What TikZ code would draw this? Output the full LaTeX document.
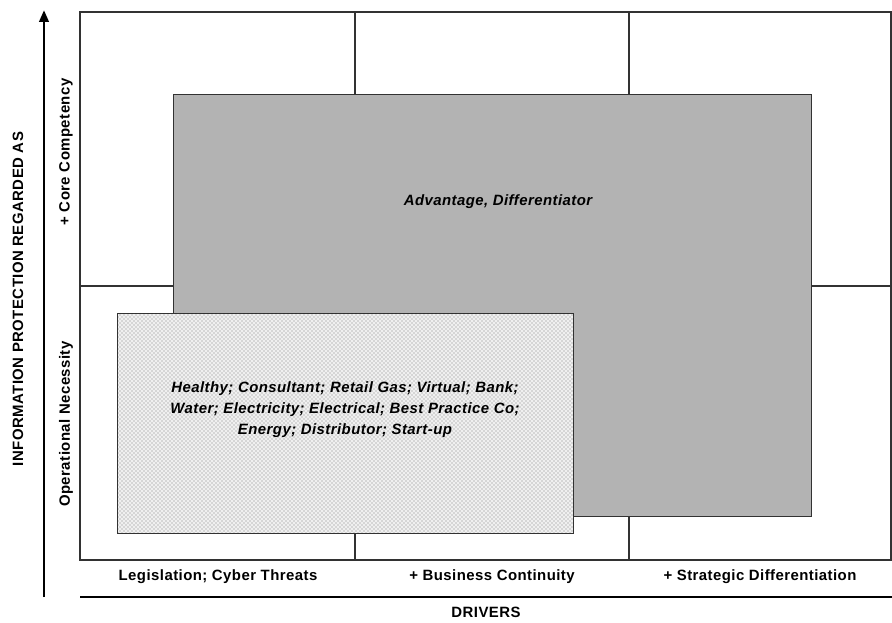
\documentclass[tikz,border=0pt]{standalone}
\usepackage{fontspec}
\setmainfont{Liberation Sans}
\usetikzlibrary{patterns,arrows.meta}
\definecolor{boxgray}{RGB}{179,179,179}
\definecolor{linegray}{RGB}{50,50,50}
\newfontfamily\wideface[LetterSpace=3]{Liberation Sans}
\tikzset{
  gridline/.style={draw=linegray, line width=0.9pt},
  axisline/.style={draw=black, line width=2.2pt},
  lbl/.style={font=\wideface\bfseries\fontsize{11.2}{13}\selectfont, inner sep=0pt},
  boxtext/.style={font=\wideface\bfseries\itshape\fontsize{11.2}{15.7}\selectfont, align=center, inner sep=0pt},
}
\begin{document}
\begin{tikzpicture}[x=0.75pt,y=-0.75pt]
\useasboundingbox (0,0) rectangle (892,623);
% frame and grid
\coordinate (f1) at (80,12);
\coordinate (f2) at (891,560);
\draw[gridline] (f1) rectangle (f2);
\coordinate (v1t) at (355,12); \coordinate (v1b) at (355,560);
\coordinate (v2t) at (629,12); \coordinate (v2b) at (629,560);
\coordinate (hl) at (80,286); \coordinate (hr) at (891,286);
\draw[gridline] (v1t) -- (v1b);
\draw[gridline] (v2t) -- (v2b);
\draw[gridline] (hl) -- (hr);
% gray box
\node[draw=linegray, line width=1pt, fill=boxgray, minimum width=478.5pt, minimum height=316.5pt, inner sep=0pt, anchor=north west] (adv) at (173,94) {};
\node[boxtext] (advtext) at (498,202) {Advantage, Differentiator};
% dotted box
\fill[gray!12] (117,313) rectangle (573,533);
\node[draw=linegray, line width=1pt, pattern=crosshatch dots, pattern color=gray, minimum width=342pt, minimum height=165pt, inner sep=0pt, anchor=north west] (ops) at (117,313) {};
\node[boxtext] (opstext) at (345,410) {Healthy; Consultant; Retail Gas; Virtual; Bank;\\Water; Electricity; Electrical; Best Practice Co;\\Energy; Distributor; Start-up};
% axes
\coordinate (ybot) at (44,597);
\coordinate (ytop) at (44,10);
\draw[axisline, -{Triangle[length=9pt,width=7pt]}] (ybot) -- (ytop);
\coordinate (xl) at (80,597);
\coordinate (xr) at (892,597);
\draw[axisline] (xl) -- (xr);
% labels
\node[lbl] (l1) at (218,577) {Legislation; Cyber Threats};
\node[lbl] (l2) at (492,577) {+ Business Continuity};
\node[lbl] (l3) at (760,577) {+ Strategic Differentiation};
\node[lbl] (drv) at (486,612) {DRIVERS};
\node[lbl, rotate=90] (yax) at (18,299) {INFORMATION PROTECTION REGARDED AS};
\node[lbl, rotate=90] (cc) at (66,152) {+ Core Competency};
\node[lbl, rotate=90] (on) at (66,424) {Operational Necessity};
\end{tikzpicture}
\end{document}
